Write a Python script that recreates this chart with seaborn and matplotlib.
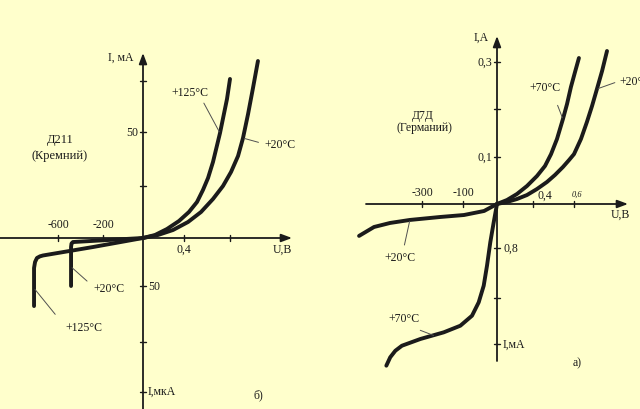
import numpy as np
import pandas as pd
import matplotlib
matplotlib.use("Agg")
import matplotlib.pyplot as plt
import seaborn as sns

# ---------------------------------------------------------------------------
# Diode current-voltage characteristics
#   left  : Д211 (silicon)   forward I in mA, reverse I in µA, U in V / V
#   right : Д7Д  (germanium) forward I in A,  reverse I in mA, U in V / V
# Reverse branch values are negative (reverse volts, reverse current units).
# ---------------------------------------------------------------------------

# Д211, forward branch (U, V ; I, mA)
d211_t125_fwd_u = [0.0, 0.117, 0.234, 0.351, 0.443, 0.513, 0.565, 0.609, 0.652, 0.713, 0.774, 0.80]
d211_t125_fwd_i = [0.0, 1.44, 4.33, 8.17, 12.5, 17.3, 23.1, 28.7, 36.1, 49.5, 66.2, 76.0]
d211_t20_fwd_u = [0.0, 0.146, 0.293, 0.435, 0.548, 0.652, 0.739, 0.809, 0.870, 0.913, 0.957, 1.0, 1.043]
d211_t20_fwd_i = [0.0, 1.44, 3.85, 7.69, 12.5, 18.75, 25.0, 31.5, 38.9, 47.2, 58.8, 71.6, 84.8]
# Д211, reverse branch (U, V ; I, µA)
d211_t20_rev_u = [0.0, -200, -467, -480, -484, -484]
d211_t20_rev_i = [0.0, -2.4, -4.2, -5.7, -9.4, -50.0]
d211_t125_rev_u = [0.0, -289, -733, -760, -787, -804, -813, -813]
d211_t125_rev_i = [0.0, -9.4, -18.2, -19.1, -20.8, -25.0, -31.3, -67.9]

# Д7Д, forward branch (U, V ; I, A)
d7d_t70_fwd_u = [0.0, 0.111, 0.222, 0.333, 0.4195, 0.4585, 0.488, 0.517, 0.546, 0.566, 0.585, 0.605, 0.624]
d7d_t70_fwd_i = [0.0, 0.0085, 0.0213, 0.0383, 0.0596, 0.0809, 0.106, 0.1375, 0.179, 0.2106, 0.2468, 0.2787, 0.3085]
d7d_t20_fwd_u = [0.0, 0.111, 0.222, 0.333, 0.4195, 0.468, 0.507, 0.546, 0.576, 0.60, 0.634, 0.663, 0.688, 0.712, 0.737, 0.761]
d7d_t20_fwd_i = [0.0, 0.0043, 0.0106, 0.0191, 0.0319, 0.0468, 0.0617, 0.0787, 0.0936, 0.106, 0.1375, 0.1729, 0.2064, 0.2426, 0.2809, 0.3234]
# Д7Д, reverse branch (U, V ; I, mA)
d7d_t20_rev_u = [0.0, -38, -97, -211, -359, -456, -534, -607]
d7d_t20_rev_i = [0.0, -0.127, -0.200, -0.236, -0.290, -0.345, -0.418, -0.580]
d7d_t70_rev_u = [0.0, -9.7, -19.7, -29.4, -39.1, -53.8, -73.5, -113, -194, -308, -398, -430, -455, -474]
d7d_t70_rev_i = [0.0, -0.333, -0.696, -1.083, -1.403, -1.675, -1.908, -2.082, -2.197, -2.313, -2.43, -2.517, -2.631, -2.777]

# Tick values and their labels
d211_xticks = [-600, -200, 0.4, 0.8]
d211_xtick_labels = ["-600", "-200", "0,4", ""]
d211_yticks = [-150, -100, -50, 25, 50, 75]
d7d_xticks = [-300, -100, 0.4, 0.6]
d7d_yticks = [-2.4, -1.6, -0.8, 0.1, 0.2, 0.3]

# Piecewise-linear scales (tick value -> pixel offset from the origin)
D211_X = ([-600, -200, 0, 0.4, 0.8], [-85, -40, 0, 41, 87])
D211_Y = ([-150, -100, -50, 0, 25, 50, 75], [-154, -104, -48, 0, 52, 106, 157])
D7D_X = ([-300, -100, 0, 0.4, 0.6], [-75, -34, 0, 36, 77])
D7D_Y = ([-2.4, -1.6, -0.8, 0, 0.1, 0.2, 0.3], [-140, -94, -44, 0, 47, 95, 142])


def scale(values, knots):
    k = np.asarray(knots[0], float)
    p = np.asarray(knots[1], float)
    v = np.atleast_1d(np.asarray(values, float))
    out = np.interp(v, k, p)
    lo, hi = v < k[0], v > k[-1]
    out[lo] = p[0] + (v[lo] - k[0]) * (p[1] - p[0]) / (k[1] - k[0])
    out[hi] = p[-1] + (v[hi] - k[-1]) * (p[-1] - p[-2]) / (k[-1] - k[-2])
    return out


BG = "#FFFFCC"
INK = "#1b1b1b"
LEAD = "#505050"
W, H = 640, 410

sns.set_theme(style="white")
plt.rcParams["font.family"] = ["Liberation Serif", "DejaVu Serif"]
plt.rcParams["font.size"] = 8.5

fig = plt.figure(figsize=(6.4, 4.1), dpi=100)
fig.patch.set_facecolor(BG)


def make_panel(ox, oy):
    ax = fig.add_axes([0, 0, 1, 1])
    ax.set_xlim(-ox, W - ox)
    ax.set_ylim(-(H - oy), oy)
    ax.axis("off")
    ax.patch.set_alpha(0)
    return ax


def axis_arrow(ax, start, tip):
    ax.annotate("", xy=tip, xytext=start,
                arrowprops=dict(arrowstyle="-|>,head_length=0.75,head_width=0.28",
                                color=INK, lw=1.3, shrinkA=0, shrinkB=0))


def curve(ax, u, i, sx, sy):
    df = pd.DataFrame({"x": scale(u, sx), "y": scale(i, sy)})
    sns.lineplot(data=df, x="x", y="y", sort=False, estimator=None, ax=ax,
                 color=INK, lw=2.8, solid_capstyle="round", solid_joinstyle="round")


def ticks(ax, xt, yt, sx, sy, half=3):
    for p in scale(xt, sx):
        ax.plot([p, p], [-half, half], color=INK, lw=1.0)
    for p in scale(yt, sy):
        ax.plot([-half, half], [p, p], color=INK, lw=1.0)


def leader(ax, label, u, i, sx, sy, txy, relpos, shrink=1.5, **kw):
    xy = (scale(u, sx)[0], scale(i, sy)[0])
    ax.annotate(label, xy=xy, xytext=txy, textcoords="data", ha="center", va="center",
                color=INK, fontsize=8.5, annotation_clip=False,
                arrowprops=dict(arrowstyle="-", color=LEAD, lw=0.7, relpos=relpos,
                                shrinkA=shrink, shrinkB=1), **kw)


# ---------------- Д211 ----------------
ax1 = make_panel(143, 239)
axis_arrow(ax1, (-143, 0), (149, 0))
axis_arrow(ax1, (0, -171), (0, 185))
ticks(ax1, d211_xticks, d211_yticks, D211_X, D211_Y)

curve(ax1, d211_t125_fwd_u, d211_t125_fwd_i, D211_X, D211_Y)
curve(ax1, d211_t20_fwd_u, d211_t20_fwd_i, D211_X, D211_Y)
curve(ax1, d211_t20_rev_u, d211_t20_rev_i, D211_X, D211_Y)
curve(ax1, d211_t125_rev_u, d211_t125_rev_i, D211_X, D211_Y)

for t, lab in zip(scale(d211_xticks, D211_X), d211_xtick_labels):
    if t < 0:
        ax1.text(t, 14, lab, ha="center", va="center", color=INK)
    elif lab:
        ax1.text(t, -11, lab, ha="center", va="center", color=INK)
ax1.text(-5, scale(50, D211_Y)[0], "50", ha="right", va="center", color=INK)
ax1.text(5, scale(-50, D211_Y)[0], "50", ha="left", va="center", color=INK)
ax1.text(-22, 181, "I, мА", ha="center", va="center", color=INK)
ax1.text(139, -11, "U,В", ha="center", va="center", color=INK)
ax1.text(5, -153, "I,мкА", ha="left", va="center", color=INK)
ax1.text(115, -156, "б)", ha="center", va="center", color=INK)
ax1.text(-83, 99, "Д211", ha="center", va="center", color=INK, fontsize=9)
ax1.text(-83, 83, "(Кремний)", ha="center", va="center", color=INK, fontsize=9)

leader(ax1, "+125°C", 0.713, 49.5, D211_X, D211_Y, (47, 146), (0.8, 0.0))
leader(ax1, "+20°C", 0.913, 47.2, D211_X, D211_Y, (137, 94), (0.0, 0.5), shrink=2)
leader(ax1, "+20°C", -484, -30, D211_X, D211_Y, (-34, -50), (0.0, 0.6), shrink=3)
leader(ax1, "+125°C", -813, -52, D211_X, D211_Y, (-59, -89), (0.0, 0.5), shrink=8)

# ---------------- Д7Д ----------------
ax2 = make_panel(497, 205)
axis_arrow(ax2, (-131, 0), (131, 0))
axis_arrow(ax2, (0, -157), (0, 168))
ticks(ax2, d7d_xticks, d7d_yticks, D7D_X, D7D_Y)

curve(ax2, d7d_t70_fwd_u, d7d_t70_fwd_i, D7D_X, D7D_Y)
curve(ax2, d7d_t20_fwd_u, d7d_t20_fwd_i, D7D_X, D7D_Y)
curve(ax2, d7d_t20_rev_u, d7d_t20_rev_i, D7D_X, D7D_Y)
curve(ax2, d7d_t70_rev_u, d7d_t70_rev_i, D7D_X, D7D_Y)

xt2 = scale(d7d_xticks, D7D_X)
ax2.text(xt2[0], 12, "-300", ha="center", va="center", color=INK)
ax2.text(xt2[1], 12, "-100", ha="center", va="center", color=INK)
ax2.text(xt2[2] + 4, 9, "0,4", ha="left", va="center", color=INK)
ax2.text(xt2[3] + 3, 10, "0,6", ha="center", va="center", color=INK, fontsize=6, style="italic")
ax2.text(-5, scale(0.3, D7D_Y)[0], "0,3", ha="right", va="center", color=INK)
ax2.text(-5, scale(0.1, D7D_Y)[0], "0,1", ha="right", va="center", color=INK)
ax2.text(6, scale(-0.8, D7D_Y)[0], "0,8", ha="left", va="center", color=INK)
ax2.text(6, scale(-2.4, D7D_Y)[0], "I,мА", ha="left", va="center", color=INK)
ax2.text(-16, 167, "I,А", ha="center", va="center", color=INK)
ax2.text(123, -10, "U,В", ha="center", va="center", color=INK)
ax2.text(80, -158, "а)", ha="center", va="center", color=INK)
ax2.text(-74, 89, "Д7Д", ha="center", va="center", color=INK, fontsize=8.5)
ax2.text(-73, 77, "(Германий)", ha="center", va="center", color=INK, fontsize=8.5)

leader(ax2, "+70°C", 0.546, 0.179, D7D_X, D7D_Y, (48, 117), (0.75, 0.0), shrink=7)
leader(ax2, "+20°C", 0.712, 0.2426, D7D_X, D7D_Y, (138, 123), (0.0, 0.5), shrink=1)
leader(ax2, "+20°C", -359, -0.29, D7D_X, D7D_Y, (-97, -53), (0.6, 1.0), shrink=2)
leader(ax2, "+70°C", -237, -2.26, D7D_X, D7D_Y, (-93, -114), (0.5, 0.0), shrink=6)

fig.savefig("out.png", dpi=100, facecolor=BG)
